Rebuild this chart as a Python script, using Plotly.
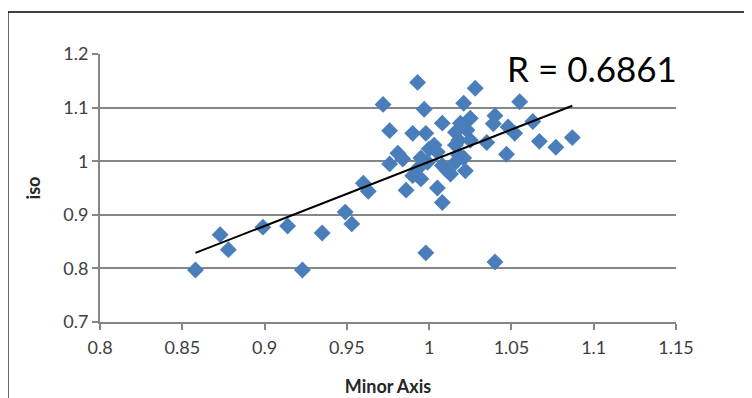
import numpy as np
import plotly.graph_objects as go

minor_axis = [0.858, 0.873, 0.878, 0.899, 0.914, 0.923, 0.935, 0.949, 0.953, 0.960, 0.963,
              0.972, 0.997, 1.021, 0.976, 0.990, 0.998, 1.008, 1.019, 1.025, 1.016, 1.023,
              1.018, 1.025, 1.016, 0.981, 0.976, 0.984, 0.995, 1.000, 1.003, 1.005, 0.999,
              0.993, 0.990, 0.995, 1.008, 1.011, 1.016, 1.018, 1.021, 1.022, 1.013, 0.986,
              1.005, 1.008, 0.998, 1.040, 0.993, 1.028, 1.055, 1.040, 1.039, 1.048, 1.052,
              1.063, 1.035, 1.067, 1.077, 1.087, 1.047]
iso = [0.797, 0.863, 0.835, 0.877, 0.879, 0.797, 0.866, 0.905, 0.883, 0.959, 0.944,
       1.106, 1.097, 1.108, 1.057, 1.052, 1.052, 1.071, 1.071, 1.080, 1.054, 1.058,
       1.039, 1.039, 1.030, 1.015, 0.995, 1.004, 1.006, 1.023, 1.030, 1.017, 0.998,
       0.986, 0.973, 0.967, 0.992, 0.982, 0.998, 1.011, 1.006, 0.982, 0.976, 0.946,
       0.950, 0.923, 0.829, 0.812, 1.147, 1.136, 1.111, 1.085, 1.070, 1.064, 1.052,
       1.074, 1.035, 1.037, 1.026, 1.044, 1.013]

r_label = "R = 0.6861"
x_ticks = [0.8, 0.85, 0.9, 0.95, 1.0, 1.05, 1.1, 1.15]
x_tick_text = ["0.8", "0.85", "0.9", "0.95", "1", "1.05", "1.1", "1.15"]
y_ticks = [0.7, 0.8, 0.9, 1.0, 1.1, 1.2]
y_tick_text = ["0.7", "0.8", "0.9", "1", "1.1", "1.2"]

xa = np.array(minor_axis)
ya = np.array(iso)
slope, intercept = np.polyfit(xa, ya, 1)
tx = np.array([xa.min(), xa.max()])
ty = slope * tx + intercept

fig = go.Figure()
fig.add_trace(go.Scatter(
    x=minor_axis, y=iso, mode="markers",
    marker=dict(symbol="diamond", size=13, color="#4a7ebb", line=dict(width=0)),
    showlegend=False, hoverinfo="skip"))
fig.add_trace(go.Scatter(
    x=tx, y=ty, mode="lines", line=dict(color="black", width=2),
    showlegend=False, hoverinfo="skip"))

font_family = "Lato, 'Open Sans', sans-serif"
fig.update_layout(
    width=744, height=390,
    margin=dict(l=92, r=76, t=46, b=76, autoexpand=False),
    paper_bgcolor="white", plot_bgcolor="white",
    font=dict(family=font_family, size=18, color="#404040"),
    xaxis=dict(range=[0.8, 1.15], tickvals=x_ticks, ticktext=x_tick_text,
               showgrid=False, zeroline=False, showline=True, linecolor="#868686",
               linewidth=2, ticks="outside", ticklen=6, tickcolor="#868686", tickwidth=1.5,
               tickfont=dict(size=18, color="#404040"), automargin=False, ticklabelstandoff=2,
               title=dict(text="<b>Minor Axis</b>", font=dict(size=18, color="#262626"), standoff=24)),
    yaxis=dict(range=[0.7, 1.2], tickvals=y_ticks, ticktext=y_tick_text,
               showgrid=True, gridcolor="#868686", gridwidth=2, zeroline=False,
               showline=True, linecolor="#868686", linewidth=2,
               ticks="outside", ticklen=6, tickcolor="#868686", tickwidth=1.5,
               tickfont=dict(size=18, color="#404040"), automargin=False,
               title=dict(text="<b>iso</b>", font=dict(size=18, color="#262626"), standoff=18)),
    annotations=[dict(x=1.046, y=1.173, xref="x", yref="y", text=r_label,
                      showarrow=False, xanchor="left", yanchor="middle",
                      font=dict(size=35, color="black", family=font_family))],
    shapes=[
        dict(type="line", xref="paper", yref="paper", x0=-0.16, x1=-0.16, y0=-0.6, y1=1.157,
             line=dict(color="black", width=1.5)),
        dict(type="line", xref="paper", yref="paper", x0=-0.16, x1=1.3, y0=1.157, y1=1.157,
             line=dict(color="black", width=1.5)),
    ],
)
fig.write_html("out.html")
